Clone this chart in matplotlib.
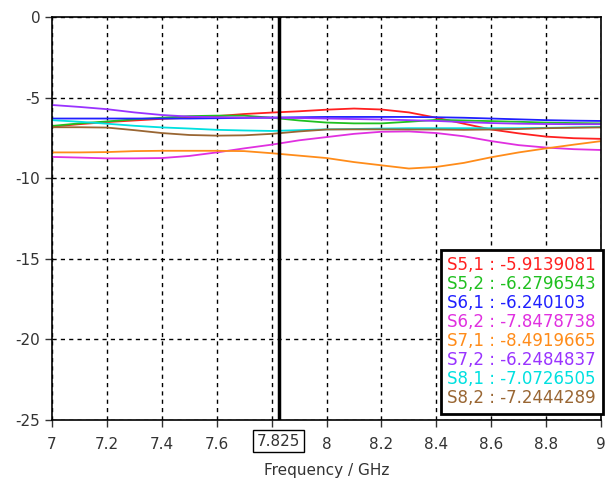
import numpy as np
import matplotlib.pyplot as plt

plt.rcParams["axes.unicode_minus"] = False

freq = [7.0, 7.1, 7.2, 7.3, 7.4, 7.5, 7.6, 7.7, 7.8, 7.9, 8.0,
        8.1, 8.2, 8.3, 8.4, 8.5, 8.6, 8.7, 8.8, 8.9, 9.0]

s51 = [-6.80, -6.65, -6.52, -6.42, -6.32, -6.25, -6.15, -6.02, -5.93, -5.85, -5.75,
       -5.68, -5.74, -5.92, -6.25, -6.62, -6.98, -7.22, -7.42, -7.52, -7.56]
s52 = [-6.76, -6.60, -6.48, -6.35, -6.25, -6.15, -6.12, -6.12, -6.25, -6.42, -6.55,
       -6.60, -6.60, -6.50, -6.38, -6.42, -6.46, -6.50, -6.55, -6.58, -6.60]
s61 = [-6.30, -6.30, -6.30, -6.30, -6.30, -6.30, -6.28, -6.26, -6.24, -6.22, -6.20,
       -6.20, -6.20, -6.20, -6.22, -6.25, -6.30, -6.35, -6.40, -6.43, -6.45]
s62 = [-8.68, -8.72, -8.77, -8.77, -8.75, -8.62, -8.40, -8.15, -7.92, -7.65, -7.45,
       -7.25, -7.12, -7.10, -7.20, -7.40, -7.70, -7.95, -8.10, -8.20, -8.25]
s71 = [-8.40, -8.40, -8.38, -8.32, -8.30, -8.30, -8.30, -8.32, -8.45, -8.60, -8.75,
       -9.00, -9.20, -9.40, -9.30, -9.05, -8.70, -8.40, -8.15, -7.92, -7.70]
s72 = [-5.46, -5.58, -5.72, -5.92, -6.08, -6.18, -6.22, -6.24, -6.25, -6.27, -6.30,
       -6.33, -6.36, -6.40, -6.45, -6.52, -6.58, -6.62, -6.64, -6.65, -6.65]
s81 = [-6.40, -6.50, -6.62, -6.75, -6.85, -6.92, -7.00, -7.04, -7.07, -7.02, -6.97,
       -6.95, -6.92, -6.90, -6.90, -6.90, -6.90, -6.90, -6.88, -6.85, -6.82]
s82 = [-6.84, -6.84, -6.86, -7.02, -7.20, -7.32, -7.36, -7.34, -7.25, -7.10, -6.98,
       -6.97, -6.97, -6.98, -6.98, -7.00, -6.98, -6.95, -6.90, -6.87, -6.85]

names = ["S5,1", "S5,2", "S6,1", "S6,2", "S7,1", "S7,2", "S8,1", "S8,2"]
marker_vals = ["-5.9139081", "-6.2796543", "-6.240103", "-7.8478738",
               "-8.4919665", "-6.2484837", "-7.0726505", "-7.2444289"]
colors = ["#ff2020", "#20c020", "#2020ff", "#e030e0",
          "#ff8c1a", "#9933ff", "#00e0e0", "#996633"]
series = [s51, s52, s61, s62, s71, s72, s81, s82]

marker_f = 7.825
xticks = [7, 7.2, 7.4, 7.6, 7.8, 8, 8.2, 8.4, 8.6, 8.8, 9]
xlabels = ["7", "7.2", "7.4", "7.6", "", "8", "8.2", "8.4", "8.6", "8.8", "9"]
yticks = [0, -5, -10, -15, -20, -25]

fig = plt.figure(figsize=(6.14, 4.84), dpi=100)
ax = fig.add_axes([0.0847, 0.132, 0.8943, 0.833])

for name, val, c, s in zip(names, marker_vals, colors, series):
    ax.plot(freq, s, color=c, lw=1.3, label=f"{name} : {val}")

ax.axvline(marker_f, color="black", lw=2.5)

ax.set_xlim(7, 9)
ax.set_ylim(-25, 0)
ax.set_xticks(xticks)
ax.set_xticklabels(xlabels)
ax.set_yticks(yticks)
ax.grid(True, color="black", linestyle=(0, (3, 3)), lw=1)
ax.tick_params(labelsize=11, length=5, width=1, colors="#333333", labelcolor="#333333")
ax.tick_params(axis="x", pad=7)
for sp in ax.spines.values():
    sp.set_color("black")
    sp.set_linewidth(1.2)

ax.text(marker_f, -0.052, "7.825", transform=ax.get_xaxis_transform(),
        ha="center", va="center", fontsize=11, color="#333333",
        bbox=dict(boxstyle="square,pad=0.25", fc="white", ec="black", lw=1))
ax.set_xlabel("Frequency / GHz", fontsize=11, color="#333333", labelpad=8)

leg = ax.legend(loc="lower right", bbox_to_anchor=(1.003, 0.015), borderaxespad=0,
                handlelength=0, handletextpad=0, labelcolor="linecolor",
                fontsize=12, fancybox=False, framealpha=1, edgecolor="black",
                labelspacing=0.06, borderpad=0.4)
for h in leg.legend_handles:
    h.set_visible(False)
leg.get_frame().set_linewidth(2)

fig.savefig("out.png", dpi=100)
